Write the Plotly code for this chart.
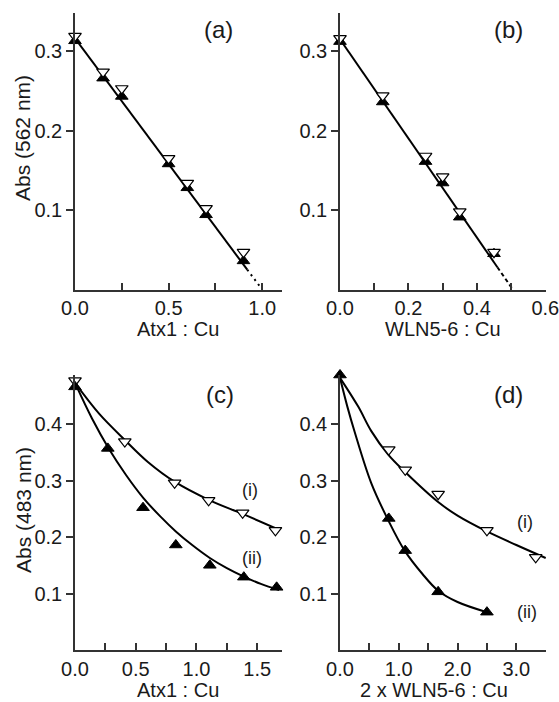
import plotly.graph_objects as go

# ---------------- data ----------------
# panel (a)
a_x = [0, 0.15, 0.25, 0.5, 0.6, 0.7, 0.9]
a_open = [0.319, 0.274, 0.253, 0.165, 0.134, 0.102, 0.047]
a_filled = [0.313, 0.266, 0.243, 0.158, 0.128, 0.094, 0.036]
a_fit_x = [0, 0.92]
a_fit_y = [0.316, 0.025]
a_ext_x = [0.92, 1.0]
a_ext_y = [0.025, 0.0]

# panel (b)
b_x = [0, 0.125, 0.25, 0.3, 0.35, 0.45]
b_open = [0.316, 0.244, 0.168, 0.142, 0.098, 0.047]
b_filled = [0.312, 0.236, 0.161, 0.134, 0.091, 0.045]
b_fit_x = [0, 0.46]
b_fit_y = [0.315, 0.028]
b_ext_x = [0.46, 0.505]
b_ext_y = [0.028, 0.0]

# panel (c)
c_x_open = [0, 0.41, 0.82, 1.1, 1.38, 1.65]
c_open = [0.477, 0.369, 0.296, 0.265, 0.243, 0.212]
c_x_filled = [0, 0.27, 0.56, 0.83, 1.11, 1.39, 1.66]
c_filled = [0.466, 0.357, 0.252, 0.186, 0.150, 0.129, 0.111]
c_curve1_x = [0, 0.2, 0.41, 0.6, 0.82, 1.1, 1.38, 1.68]
c_curve1_y = [0.473, 0.418, 0.372, 0.333, 0.298, 0.266, 0.241, 0.213]
c_curve2_x = [0, 0.14, 0.28, 0.42, 0.56, 0.7, 0.83, 0.97, 1.11, 1.25, 1.39, 1.53, 1.68]
c_curve2_y = [0.473, 0.41, 0.356, 0.31, 0.27, 0.237, 0.21, 0.185, 0.163, 0.145, 0.13, 0.117, 0.106]

# panel (d)
d_x_open = [0.83, 1.11, 1.67, 2.5, 3.33]
d_open = [0.355, 0.319, 0.276, 0.212, 0.164]
d_x_filled = [0, 0.83, 1.11, 1.67, 2.5]
d_filled = [0.487, 0.233, 0.176, 0.103, 0.067]
d_curve1_x = [0, 0.31, 0.53, 0.82, 1.1, 1.67, 2.0, 2.5, 3.0, 3.5]
d_curve1_y = [0.482, 0.431, 0.388, 0.346, 0.316, 0.262, 0.238, 0.21, 0.186, 0.163]
d_curve2_x = [0, 0.125, 0.25, 0.53, 0.82, 1.1, 1.4, 1.67, 2.0, 2.5]
d_curve2_y = [0.482, 0.431, 0.386, 0.296, 0.230, 0.176, 0.135, 0.105, 0.085, 0.067]

panel_labels = ["(a)", "(b)", "(c)", "(d)"]
curve_labels = ["(i)", "(ii)"]

# ---------------- figure ----------------
W, H = 559, 702
FONT = "Liberation Sans, Arial, Helvetica, sans-serif"
INK = "#1a1a1a"

fig = go.Figure()

def px(X):
    return X / W

def py(Y):
    return 1 - Y / H

def add_line(x, y, ax, dash="solid", shape="linear"):
    fig.add_trace(go.Scatter(
        x=x, y=y, mode="lines", xaxis=ax[0], yaxis=ax[1],
        line=dict(color="black", width=2, dash=dash, shape=shape, smoothing=1.0),
        showlegend=False, hoverinfo="skip", cliponaxis=False))

def add_open(x, y, ax):
    fig.add_trace(go.Scatter(
        x=x, y=y, mode="markers", xaxis=ax[0], yaxis=ax[1],
        marker=dict(symbol="triangle-down", size=11, color="white",
                    line=dict(color="black", width=1.2)),
        showlegend=False, cliponaxis=False))

def add_filled(x, y, ax):
    fig.add_trace(go.Scatter(
        x=x, y=y, mode="markers", xaxis=ax[0], yaxis=ax[1],
        marker=dict(symbol="triangle-up", size=11, color="black",
                    line=dict(color="black", width=1)),
        showlegend=False, cliponaxis=False))

axA = ("x", "y")
axB = ("x2", "y2")
axC = ("x3", "y3")
axD = ("x4", "y4")

# (a)
add_line(a_fit_x, a_fit_y, axA)
add_line(a_ext_x, a_ext_y, axA, dash="2px,4px")
add_filled(a_x, a_filled, axA)
add_open(a_x, a_open, axA)
# (b)
add_line(b_fit_x, b_fit_y, axB)
add_line(b_ext_x, b_ext_y, axB, dash="4px,3px")
add_filled(b_x, b_filled, axB)
add_open(b_x, b_open, axB)
# (c)
add_line(c_curve1_x, c_curve1_y, axC, shape="spline")
add_line(c_curve2_x, c_curve2_y, axC, shape="spline")
add_open(c_x_open, c_open, axC)
add_filled(c_x_filled, c_filled, axC)
# (d)
add_line(d_curve1_x, d_curve1_y, axD, shape="spline")
add_line(d_curve2_x, d_curve2_y, axD, shape="spline")
add_open(d_x_open, d_open, axD)
add_filled(d_x_filled, d_filled, axD)

tickfont = dict(family=FONT, size=20, color=INK)

def xaxis(dom, rng, dtick, minor_dtick, anchor):
    return dict(
        domain=dom, range=rng, anchor=anchor, showgrid=False, zeroline=False,
        automargin=False, ticklabeloverflow="allow",
        showline=True, linecolor="#333", linewidth=1.5,
        ticks="inside", ticklen=7, tickwidth=1.5, tickcolor="#333",
        tick0=0, dtick=dtick, tickformat=".1f", tickfont=tickfont,
        minor=dict(ticks="inside", dtick=minor_dtick, tick0=0, ticklen=7,
                   tickwidth=1.5, tickcolor="#333", showgrid=False),
        fixedrange=True)

def yaxis(dom, rng, vals, anchor):
    return dict(
        domain=dom, range=rng, anchor=anchor, showgrid=False, zeroline=False,
        automargin=False, ticklabeloverflow="allow",
        showline=True, linecolor="#333", linewidth=1.5,
        ticks="outside", ticklen=7, tickwidth=1.5, tickcolor="#333",
        tickvals=vals, ticktext=["%.1f" % v for v in vals], tickfont=tickfont,
        fixedrange=True)

left = [px(75), px(281.5)]
right = [px(340), px(546)]
top = [py(289.5), py(13)]
bottom = [py(650), py(375)]

fig.update_layout(
    width=W, height=H, autosize=False,
    margin=dict(l=0, r=0, t=0, b=0, autoexpand=False),
    paper_bgcolor="white", plot_bgcolor="white",
    xaxis=xaxis(left, [0, 1.103], 0.5, 0.25, "y"),
    yaxis=yaxis(top, [0, 0.348], [0.1, 0.2, 0.3], "x"),
    xaxis2=xaxis(right, [0, 0.602], 0.2, 0.1, "y2"),
    yaxis2=yaxis(top, [0, 0.348], [0.1, 0.2, 0.3], "x2"),
    xaxis3=xaxis(left, [0, 1.7], 0.5, 0.25, "y3"),
    yaxis3=yaxis(bottom, [0, 0.487], [0.1, 0.2, 0.3, 0.4], "x3"),
    xaxis4=xaxis(right, [0, 3.505], 1.0, 0.5, "y4"),
    yaxis4=yaxis(bottom, [0, 0.487], [0.1, 0.2, 0.3, 0.4], "x4"),
)

def ann(text, X, Y, size=20, angle=0):
    fig.add_annotation(text=text, x=px(X), y=py(Y), xref="paper", yref="paper",
                       xanchor="center", yanchor="middle", showarrow=False,
                       textangle=angle, font=dict(family=FONT, size=size, color=INK))

# panel labels
ann(panel_labels[0], 218, 29, size=24)
ann(panel_labels[1], 508, 30, size=24)
ann(panel_labels[2], 220, 394, size=24)
ann(panel_labels[3], 508, 394, size=24)
# curve labels
ann(curve_labels[0], 250, 490, size=18)
ann(curve_labels[1], 252, 558, size=18)
ann(curve_labels[0], 525, 522, size=18)
ann(curve_labels[1], 527, 612, size=18)
# axis titles
ann("Abs (562 nm)", 23, 138, size=21, angle=-90)
ann("Abs (483 nm)", 23, 510, size=21, angle=-90)
ann("Atx1 : Cu", 178, 329)
ann("WLN5-6 : Cu", 443, 329)
ann("Atx1 : Cu", 178, 690)
ann("2 x WLN5-6 : Cu", 434, 690)

fig.write_html(
    "out.html",
    config={"displayModeBar": False},
    post_script="document.body.style.margin='0px';document.body.style.overflow='hidden';")
